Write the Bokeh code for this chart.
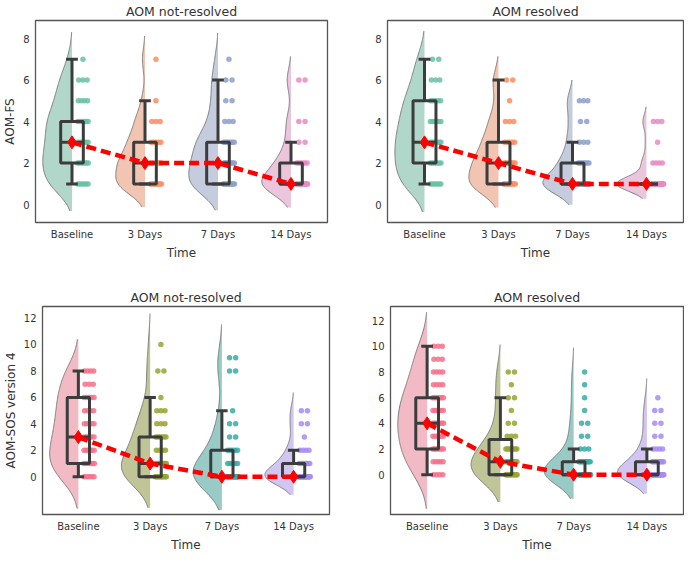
import colorsys
import numpy as np
from bokeh.plotting import figure
from bokeh.models import Range1d, FixedTicker
from bokeh.layouts import column, row
from bokeh.embed import file_html
from bokeh.resources import INLINE

# ---------------- data ----------------
categories = ["Baseline", "3 Days", "7 Days", "14 Days"]

fs_scores = [1, 2, 3, 4, 5, 6, 7]
# number of patients at each AOM-FS score (1..7), per time point
fs_notres_baseline = [6, 7, 6, 6, 4, 3, 1]
fs_notres_day3 = [9, 8, 5, 3, 1, 0, 1]
fs_notres_day7 = [10, 8, 7, 3, 2, 2, 1]
fs_notres_day14 = [14, 6, 2, 2, 0, 2, 0]

fs_res_baseline = [6, 7, 7, 6, 5, 3, 2]
fs_res_day3 = [10, 8, 5, 3, 1, 2, 0]
fs_res_day7 = [18, 7, 3, 2, 3, 0, 0]
fs_res_day14 = [25, 4, 1, 3, 0, 0, 0]

sos_scores = [0, 1, 2, 3, 4, 5, 6, 7, 8, 9, 10]
# number of patients at each AOM-SOS score (0..10), per time point
sos_notres_baseline = [5, 7, 6, 5, 5, 4, 5, 3, 4, 0, 0]
sos_notres_day3 = [11, 10, 4, 6, 3, 3, 1, 0, 2, 0, 1]
sos_notres_day7 = [20, 5, 5, 2, 2, 1, 0, 0, 2, 2, 0]
sos_notres_day14 = [22, 8, 4, 1, 2, 2, 0, 0, 0, 0, 0]

sos_res_baseline = [4, 5, 7, 6, 8, 6, 7, 4, 4, 3, 3]
sos_res_day3 = [13, 10, 8, 3, 2, 1, 2, 1, 2, 0, 0]
sos_res_day7 = [24, 10, 3, 2, 2, 1, 1, 1, 1, 0, 0]
sos_res_day14 = [24, 10, 4, 2, 2, 2, 1, 0, 0, 0, 0]

fs_ticks = [0, 2, 4, 6, 8]
sos_ticks = [0, 2, 4, 6, 8, 10, 12]

set2 = ["#66c2a5", "#fc8d62", "#8da0cb", "#e78ac3"]
husl = ["#f77189", "#97a431", "#36ada4", "#a48cf4"]

FONT = "DejaVu Sans"
TXT = "#333333"
BOXC = "#3c3c3c"


def desat(hexc, prop=0.75):
    r, g, b = [int(hexc[i:i + 2], 16) / 255 for i in (1, 3, 5)]
    h, l, s = colorsys.rgb_to_hls(r, g, b)
    r, g, b = colorsys.hls_to_rgb(h, l, s * prop)
    return "#%02x%02x%02x" % (int(r * 255), int(g * 255), int(b * 255))


def expand(scores, counts):
    return np.repeat(np.array(scores, float), counts)


def make_panel(title, groups, scores, palette, yr, ticks, ylabel, bwf,
               width, height, bl, br, bt, bb):
    p = figure(width=width, height=height, output_backend="svg",
               toolbar_location=None, x_range=Range1d(-0.5, 3.5),
               y_range=Range1d(*yr), min_border_left=bl, min_border_right=br,
               min_border_top=bt, min_border_bottom=bb)
    p.title.text = title
    p.title.align = "center"
    p.title.text_font = FONT
    p.title.text_font_size = "12.5px"
    p.title.text_font_style = "normal"
    p.title.text_color = TXT
    p.title.standoff = 3
    p.grid.visible = False
    p.outline_line_color = "#555555"
    p.outline_line_width = 1.3
    for ax in (p.xaxis[0], p.yaxis[0]):
        ax.axis_line_color = None
        ax.major_tick_line_color = None
        ax.minor_tick_line_color = None
        ax.major_tick_out = 0
        ax.major_tick_in = 0
        ax.minor_tick_out = 0
        ax.minor_tick_in = 0
        ax.major_label_text_font = FONT
        ax.major_label_text_font_size = "10px"
        ax.major_label_text_color = TXT
        ax.axis_label_text_font = FONT
        ax.axis_label_text_font_style = "normal"
        ax.axis_label_text_color = TXT
        ax.major_label_standoff = 6
        ax.axis_label_standoff = 3
    p.xaxis.ticker = FixedTicker(ticks=[0, 1, 2, 3])
    p.xaxis.major_label_overrides = {i: c for i, c in enumerate(categories)}
    p.xaxis.axis_label = "Time"
    p.xaxis.axis_label_text_font_size = "12px"
    p.yaxis.ticker = FixedTicker(ticks=ticks)
    p.yaxis.axis_label = ylabel
    p.yaxis.axis_label_text_font_size = "12px"

    medians = []
    for i, counts in enumerate(groups):
        vals = expand(scores, counts)
        col = palette[i]
        # half violin (gaussian kde, each scaled to the same width)
        bw = bwf * vals.std(ddof=1)
        grid = np.linspace(vals.min() - 2 * bw, vals.max() + 2 * bw, 200)
        dens = np.exp(-0.5 * ((grid[:, None] - vals[None, :]) / bw) ** 2).sum(1)
        dens = dens / dens.max()
        vx = i - 0.4 * dens
        p.patch(np.concatenate([vx, [i, i]]),
                np.concatenate([grid, [grid[-1], grid[0]]]),
                fill_color=desat(col), fill_alpha=0.55, line_color=None)
        p.line(vx, grid, line_color="#7d7d7d", line_width=1)

        # strip points
        xs, ys = [], []
        for s, c in zip(scores, counts):
            for k in range(c):
                xs.append(i + 0.065 + (k + 0.5) / c * 0.17)
                ys.append(s)
        p.scatter(xs, ys, size=5.5, color=col, alpha=0.85, line_color=None)

        # box plot
        q1, med, q3 = np.percentile(vals, [25, 50, 75])
        iqr = q3 - q1
        lo = vals[vals >= q1 - 1.5 * iqr].min()
        hi = vals[vals <= q3 + 1.5 * iqr].max()
        p.segment(x0=[i, i], y0=[q1, q3], x1=[i, i], y1=[lo, hi],
                  line_color=BOXC, line_width=3)
        p.segment(x0=[i - 0.08, i - 0.08], y0=[lo, hi],
                  x1=[i + 0.08, i + 0.08], y1=[lo, hi],
                  line_color=BOXC, line_width=3)
        p.quad(left=i - 0.155, right=i + 0.155, bottom=q1, top=q3,
               fill_alpha=0, line_color=BOXC, line_width=3)
        p.segment(x0=i - 0.155, y0=med, x1=i + 0.155, y1=med,
                  line_color=BOXC, line_width=3)
        medians.append(float(np.median(vals)))

    xs = list(range(len(groups)))
    p.line(xs, medians, line_color="#ff0000", line_width=4.5, line_dash="10 5")
    p.scatter(xs, medians, marker="diamond", size=13, color="#ff0000")
    return p


p1 = make_panel("AOM not-resolved",
                [fs_notres_baseline, fs_notres_day3, fs_notres_day7, fs_notres_day14],
                fs_scores, set2, (-0.86, 8.87), fs_ticks, "AOM-FS", 0.38,
                350, 262, 25, 23, 14, 30)
p2 = make_panel("AOM resolved",
                [fs_res_baseline, fs_res_day3, fs_res_day7, fs_res_day14],
                fs_scores, set2, (-0.86, 8.87), fs_ticks, "", 0.38,
                334, 262, 37, 1, 14, 30)
p3 = make_panel("AOM not-resolved",
                [sos_notres_baseline, sos_notres_day3, sos_notres_day7, sos_notres_day14],
                sos_scores, husl, (-2.85, 12.87), sos_ticks, "AOM-SOS version 4", 0.47,
                350, 292, 31, 21, 44, 30)
p4 = make_panel("AOM resolved",
                [sos_res_baseline, sos_res_day3, sos_res_day7, sos_res_day14],
                sos_scores, husl, (-3.1, 13.1), sos_ticks, "", 0.47,
                334, 292, 40, 1, 44, 30)

layout = column(row(p1, p2), row(p3, p4))
open("out.html", "w").write(file_html(layout, INLINE))
